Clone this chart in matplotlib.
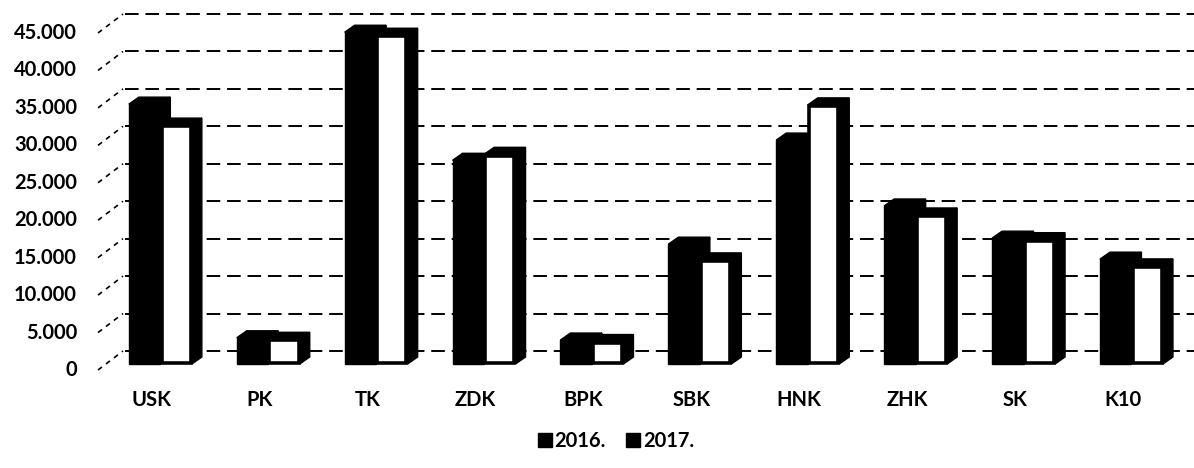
import matplotlib
matplotlib.use("Agg")
import matplotlib.pyplot as plt
from matplotlib.patches import Polygon, Rectangle, Patch

# ---- data -------------------------------------------------------------
categories = ["USK", "PK", "TK", "ZDK", "BPK", "SBK", "HNK", "ZHK", "SK", "K10"]
values_2016 = [34700, 3500, 44300, 27200, 3200, 16000, 29900, 21100, 16800, 14000]
values_2017 = [31900, 3300, 43900, 28000, 3000, 13900, 34600, 19900, 16600, 13100]
series_names = ["2016.", "2017."]
y_ticks = [0, 5000, 10000, 15000, 20000, 25000, 30000, 35000, 40000, 45000]
y_tick_labels = ["0", "5.000", "10.000", "15.000", "20.000", "25.000",
                 "30.000", "35.000", "40.000", "45.000"]

# ---- figure / axes geometry (pixels) -----------------------------------
W, H = 1194, 468
fig = plt.figure(figsize=(W / 100, H / 100), dpi=100)
fig.patch.set_facecolor("white")

ax_left, ax_bottom, ax_w, ax_h = 101, 104, 1079, 337
ax = fig.add_axes([ax_left / W, ax_bottom / H, ax_w / W, ax_h / H])
xmin, xmax = -0.55, 9.45
ymin, ymax = 0, 45000
ax.set_xlim(xmin, xmax)
ax.set_ylim(ymin, ymax)
ax.axis("off")

px_x = (xmax - xmin) / ax_w          # data units per pixel (x)
px_y = (ymax - ymin) / ax_h          # data units per pixel (y)

FONT = "Lato"
FS = 14.5

# depth of the bars and of the back wall (pixels)
bar_dx, bar_dy = 10 * px_x, 7 * px_y
wall_dx, wall_dy = 24 * px_x, 13 * px_y

# ---- back wall gridlines ----------------------------------------------
for v, lab in zip(y_ticks, y_tick_labels):
    ax.plot([xmin + wall_dx, xmax + wall_dx + 0.3], [v + wall_dy, v + wall_dy],
            color="black", lw=1.4, ls=(0, (7, 3.5)), zorder=1, clip_on=False)
    # diagonal tick running from the front edge to the wall
    ax.plot([xmin - 3 * px_x, xmin + 22 * px_x],
            [v - 6 * px_y, v + 13 * px_y],
            color="black", lw=1.2, ls=(0, (3, 3)), zorder=1, clip_on=False)
    ax.text(xmin - 24 * px_x, v - 6 * px_y, lab,
            ha="right", va="center", fontsize=FS, fontweight="bold",
            family=FONT, clip_on=False)

# ---- 3D-style bars ----------------------------------------------------
bar_w = 0.292
offsets = [-0.146, 0.146]


def draw_bar(xc, v, face, z):
    xl, xr = xc - bar_w / 2, xc + bar_w / 2
    side = Polygon([(xr, 0), (xr + bar_dx, bar_dy), (xr + bar_dx, v + bar_dy), (xr, v)],
                   closed=True, facecolor="black", edgecolor="black", lw=1,
                   zorder=z, clip_on=False)
    top = Polygon([(xl, v), (xl + bar_dx, v + bar_dy), (xr + bar_dx, v + bar_dy), (xr, v)],
                  closed=True, facecolor="black", edgecolor="black", lw=1,
                  zorder=z, clip_on=False)
    ax.add_patch(side)
    ax.add_patch(top)
    if face == "black":
        front = Rectangle((xl, 0), bar_w, v, facecolor="black", edgecolor="black",
                          lw=1, zorder=z + 0.5, clip_on=False)
    else:
        front = Rectangle((xl + 1.2 * px_x, 1.2 * px_y), bar_w - 2.4 * px_x, v - 2.4 * px_y,
                          facecolor="white", edgecolor="black", lw=2.6,
                          zorder=z + 0.5, clip_on=False)
    ax.add_patch(front)


for i in range(len(categories)):
    draw_bar(i + offsets[0], values_2016[i], "black", 3 + 2 * i)
    draw_bar(i + offsets[1], values_2017[i], "white", 4 + 2 * i)

# ---- category labels ----------------------------------------------------
for i, c in enumerate(categories):
    ax.text(i - 0.08, -36 * px_y, c, ha="center", va="center",
            fontsize=FS, fontweight="bold", family=FONT, clip_on=False)

# ---- legend ------------------------------------------------------------
handles = [Patch(facecolor="black", edgecolor="black"),
           Patch(facecolor="black", edgecolor="black")]
fig.legend(handles, series_names, loc="center", bbox_to_anchor=(616 / W, 1 - 441 / H),
           ncol=2, frameon=False, handlelength=0.7, handleheight=0.7,
           handletextpad=0.15, columnspacing=1.0,
           prop={"family": FONT, "weight": "bold", "size": FS})

fig.savefig("out.png", dpi=100, facecolor="white")
